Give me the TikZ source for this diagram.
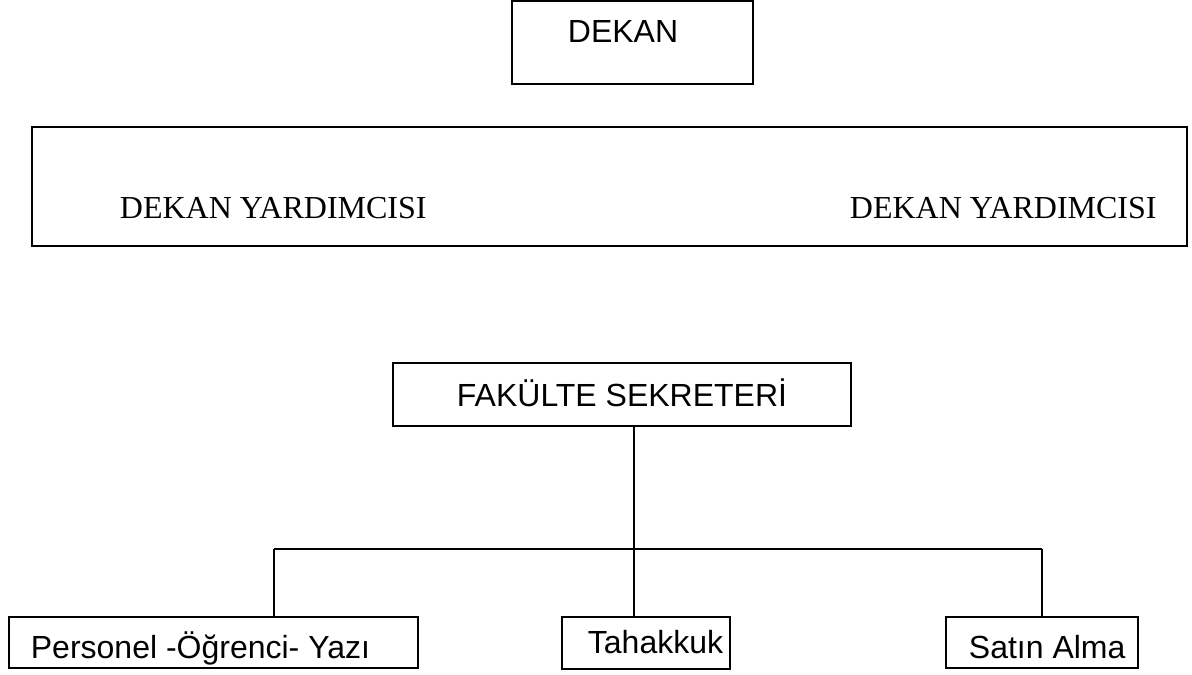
\documentclass[tikz,border=0pt]{standalone}
\usepackage{fontspec}
\setmainfont{Liberation Serif}
\newfontfamily\arial{Liberation Sans}
\usetikzlibrary{positioning}
\tikzset{
  unit/.style={draw,line width=0.9pt,inner sep=0pt},
  lbl/.style={inner sep=0pt,anchor=base west,font=\arial\fontsize{16}{19}\selectfont},
  tlbl/.style={inner sep=0pt,anchor=base west,font=\fontsize{16}{19}\selectfont}
}
\begin{document}
\begin{tikzpicture}
[x=0.5pt,y=-0.5pt,line width=0.9pt]
\useasboundingbox (0,0) rectangle (1192,674);

% top
\node[unit,minimum width=120.5pt,minimum height=41.5pt] (dekan) at (632.5,42.5) {};
\node[lbl] (dekanT) at (567,43) {DEKAN};

\node[unit,minimum width=577.5pt,minimum height=59.5pt] (yrd) at (609.5,186.5) {};
\node[tlbl] (yrdA) at (119,218) {DEKAN YARDIMCISI};
\node[tlbl] (yrdB) at (849,218) {DEKAN YARDIMCISI};

% secretary
\node[unit,minimum width=229pt,minimum height=31.5pt,text height=11.5pt,text depth=0pt,
  font=\arial\fontsize{16}{19}\selectfont] (sek) at (622,394.5) {FAKÜLTE SEKRETERİ};

% units
\node[unit,minimum width=204.5pt,minimum height=25.5pt] (per) at (213.5,642.5) {};
\node[lbl] (perT) at (30,658) {Personel -Öğrenci- Yazı};
\node[unit,minimum width=84pt,minimum height=26pt] (tah) at (646,643) {};
\node[lbl] (tahT) at (587,653) {Tahakkuk};
\node[unit,minimum width=96pt,minimum height=25.5pt] (sat) at (1042,642.5) {};
\node[lbl] (satT) at (968,658) {Satın Alma};

\coordinate (jl) at (274,549);
\coordinate (jr) at (1042,549);
\coordinate (jm) at (634,426);
\draw (jm) -- (jm |- tah.north);
\draw (jl) -- (jr);
\draw (jl) -- (jl |- per.north);
\draw (jr) -- (sat.north);
\end{tikzpicture}
\end{document}
